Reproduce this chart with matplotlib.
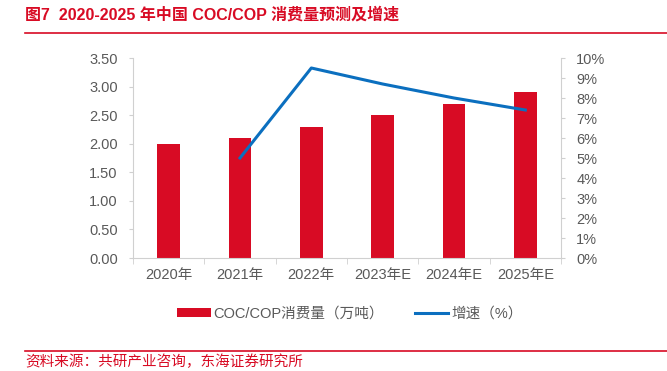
import matplotlib
matplotlib.use("Agg")
import matplotlib.pyplot as plt
import numpy as np

plt.rcParams['font.family'] = ['Liberation Sans', 'Noto Sans CJK SC', 'DejaVu Sans']

categories = ["2020年", "2021年", "2022年", "2023年E", "2024年E", "2025年E"]
consumption = [2.0, 2.1, 2.3, 2.5, 2.7, 2.9]
growth_cats = ["2021年", "2022年", "2023年E", "2024年E", "2025年E"]
growth = [5.0, 9.5, 8.7, 8.0, 7.4]
left_ticks = [0, 0.5, 1.0, 1.5, 2.0, 2.5, 3.0, 3.5]
right_ticks = list(range(0, 11))

red = '#D80B24'
blue = '#0B6FBF'
grey = '#595959'
spine_c = '#D0D0D0'

fig = plt.figure(figsize=(6.67, 3.71), dpi=100)
W, H = 667, 371
ax = fig.add_axes([133 / W, 1 - 258 / H, (561 - 133) / W, (258 - 58) / H])

x = np.arange(len(categories))
ax.bar(x, consumption, width=0.32, color=red, label='COC/COP消费量（万吨）', zorder=2)
ax.set_xlim(-0.5, len(categories) - 0.5)
ax.set_ylim(0, 3.5)
ax.set_yticks(left_ticks)
ax.set_yticklabels([f"{v:.2f}" for v in left_ticks])
ax.set_xticks(x)
ax.set_xticklabels(categories)
ax.set_xticks(np.arange(-0.5, len(categories), 1.0), minor=True)
ax.tick_params(axis='x', which='major', length=0, pad=7, labelsize=10.5, labelcolor=grey)
ax.tick_params(axis='x', which='minor', length=4, color=spine_c, direction='out')
ax.tick_params(axis='y', length=3, color=spine_c, labelsize=10.5, labelcolor=grey, pad=8)
for s in ['top', 'right']:
    ax.spines[s].set_visible(False)
for s in ['left', 'bottom']:
    ax.spines[s].set_color(spine_c)
    ax.spines[s].set_linewidth(0.8)

ax2 = ax.twinx()
gx = [categories.index(c) for c in growth_cats]
ax2.plot(gx, growth, color=blue, linewidth=2.2, label='增速（%）', zorder=3)
ax2.set_ylim(0, 10)
ax2.set_yticks(right_ticks)
ax2.set_yticklabels([f"{v}%" for v in right_ticks])
ax2.tick_params(axis='y', length=3, color=spine_c, labelsize=10.5, labelcolor=grey, pad=8)
for s in ['top', 'left', 'bottom']:
    ax2.spines[s].set_visible(False)
ax2.spines['right'].set_color(spine_c)
ax2.spines['right'].set_linewidth(0.8)

h1, l1 = ax.get_legend_handles_labels()
h2, l2 = ax2.get_legend_handles_labels()
fig.legend(h1 + h2, l1 + l2, loc='center', bbox_to_anchor=(350 / W, 1 - 314 / H),
           ncol=2, frameon=False, fontsize=10.5, labelcolor=grey, handlelength=2.3,
           handleheight=0.6, columnspacing=2.1, handletextpad=0.2)

fig.text(25 / W, 1 - 15 / H, '图7  2020-2025 年中国 COC/COP 消费量预测及增速', color=red,
         fontsize=11.5, fontweight='bold', va='center', ha='left',
         family=['Liberation Sans', 'Noto Sans CJK SC'])
fig.add_artist(plt.Line2D([25 / W, 1.0], [1 - 33 / H, 1 - 33 / H], color=red, linewidth=1.2))
fig.add_artist(plt.Line2D([25 / W, 1.0], [1 - 351 / H, 1 - 351 / H], color=red, linewidth=1.2))
fig.text(25 / W, 1 - 362 / H, '资料来源：共研产业咨询，东海证券研究所', color=red,
         fontsize=10.5, va='center', ha='left', family=['Noto Sans CJK SC'])

fig.savefig('out.png', dpi=100)
